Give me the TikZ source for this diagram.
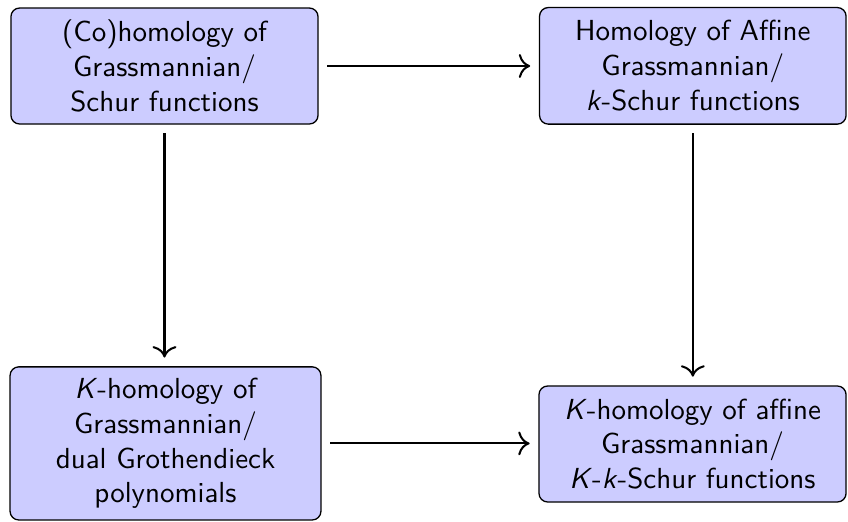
\documentclass[tikz,border=0pt]{standalone}
\usepackage{fontspec}
\usetikzlibrary{arrows.meta}
\begin{document}
\begin{tikzpicture}[
  box/.style={draw=black, line width=0.45pt, fill=blue!20, rounded corners=3pt,
    align=center, inner sep=0pt, font=\sffamily\fontsize{10}{12}\selectfont},
  link/.style={-{To[scale=1.25]}, line width=0.7pt, shorten <=3pt, shorten >=3pt}
]
\useasboundingbox (0,0) rectangle (292.41pt,-179.66pt);
\node[box, minimum width=105.9pt, minimum height=40pt] (b1) at (56.72pt,-22.76pt)
  {(Co)homology of\\Grassmannian/\\Schur functions};
\node[box, minimum width=105.7pt, minimum height=40.2pt] (b2) at (238.9pt,-22.7pt)
  {Homology of Affine\\Grassmannian/\\\textit{k}-Schur functions};
\node[box, minimum width=107.2pt, minimum height=52.8pt] (b3) at (57.07pt,-152.9pt)
  {\textit{K}-homology of\\Grassmannian/\\dual Grothendieck\\polynomials};
\node[box, minimum width=105.9pt, minimum height=40pt] (b4) at (238.8pt,-153.1pt)
  {\textit{K}-homology of affine\\Grassmannian/\\\textit{K}-\textit{k}-Schur functions};
\draw[link] (b1.east) -- (b1.east -| b2.west);
\draw[link] (b1.south) -- (b1.south |- b3.north);
\draw[link] (b2.south) -- (b2.south |- b4.north);
\draw[link] (b3.east) -- (b3.east -| b4.west);
\end{tikzpicture}
\end{document}
